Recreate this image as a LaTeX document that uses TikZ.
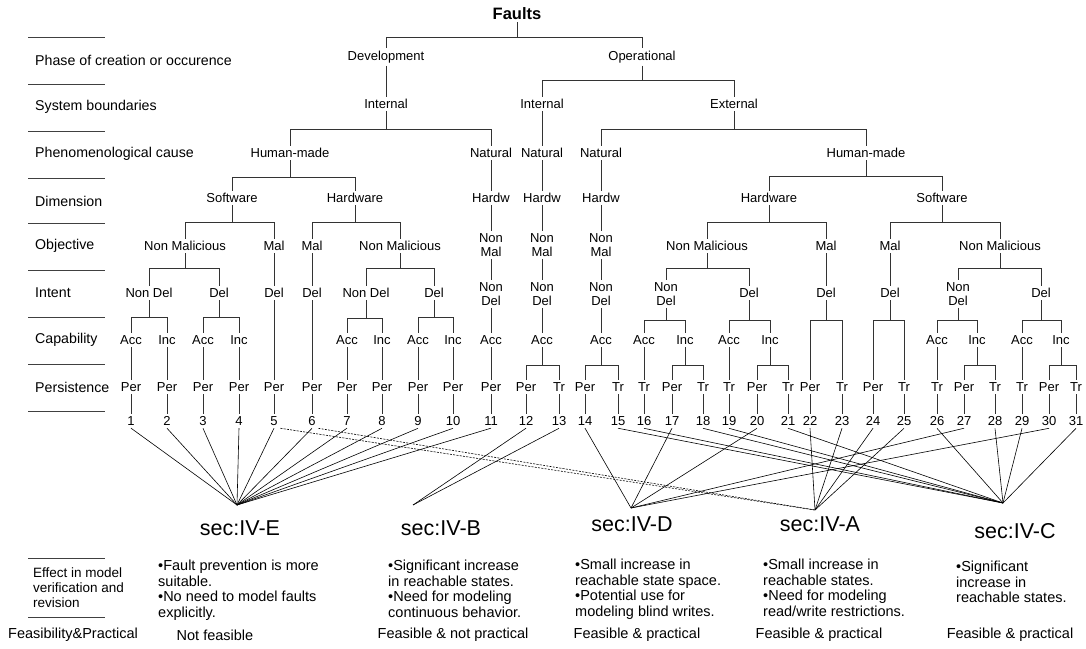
\documentclass[tikz,border=0pt]{standalone}
\usepackage{fontspec}
\setmainfont{Liberation Sans}
\newcommand{\tb}[3]{\draw[ln] (#1.south) -- (#1.south |- 0,#3) -| (#2.north);}
\newcommand{\tv}[2]{\draw[ln] (#1.south) -- (#2.north);}
\begin{document}
\begin{tikzpicture}[x=1pt,y=-1pt,
  t/.style={font=\fontsize{13}{13.5}\selectfont, inner sep=2.5pt, align=center},
  fb/.style={font=\bfseries\fontsize{16.5}{18}\selectfont, inner sep=2pt},
  rl/.style={font=\fontsize{14.2}{16}\selectfont, anchor=west, inner sep=0pt},
  ln/.style={line width=0.8pt, draw=black!80},
  sep/.style={line width=0.9pt, draw=black!75},
  cn/.style={line width=0.6pt, draw=black},
  dsh/.style={line width=0.6pt, draw=black, dash pattern=on 2pt off 1.3pt},
  sec/.style={font=\fontsize{21.5}{23}\selectfont, inner sep=0pt},
  eff/.style={font=\fontsize{14.5}{15.6}\selectfont, anchor=north west, align=left, inner sep=0pt},
  fz/.style={font=\fontsize{14.5}{16}\selectfont, inner sep=0pt}
]
\useasboundingbox (0,0) rectangle (1086,648);

% left row labels and separators
\foreach \yy in {37,84,131,178,223,270,317,364,411,558,617}
  \draw[sep] (28,\yy) -- (105,\yy);
\node[rl] (r1) at (35,60) {Phase of creation or occurence};
\node[rl] (r2) at (35,107) {System boundaries};
\node[rl] (r3) at (35,154) {Phenomenological cause};
\node[rl] (r4) at (35,201) {Dimension};
\node[rl] (r5) at (35,246) {Objective};
\node[rl] (r6) at (35,293) {Intent};
\node[rl] (r7) at (35,340) {Capability};
\node[rl] (r8) at (35,387) {Persistence};

% tree
\node[fb] (F) at (517,14) {Faults};
\node[t] (dev) at (386,57) {Development};
\node[t] (op) at (642,57) {Operational};
\tb{F}{dev}{37} \tb{F}{op}{37}

\node[t] (in1) at (386,104) {Internal};
\node[t] (in2) at (542,104) {Internal};
\node[t] (ext) at (734,104) {External};
\tv{dev}{in1} \tb{op}{in2}{80} \tb{op}{ext}{80}

\node[t] (hm1) at (290,153) {Human-made};
\node[t] (nat1) at (491,153) {Natural};
\node[t] (nat2) at (542,153) {Natural};
\node[t] (nat3) at (601,153) {Natural};
\node[t] (hm2) at (866,153) {Human-made};
\tb{in1}{hm1}{129} \tb{in1}{nat1}{129} \tv{in2}{nat2}
\tb{ext}{nat3}{129} \tb{ext}{hm2}{129}

\node[t] (sw1) at (232,198) {Software};
\node[t] (hw1) at (355,198) {Hardware};
\node[t] (hd1) at (491,198) {Hardw};
\node[t] (hd2) at (542,198) {Hardw};
\node[t] (hd3) at (601,198) {Hardw};
\node[t] (hw2) at (769,198) {Hardware};
\node[t] (sw2) at (942,198) {Software};
\tb{hm1}{sw1}{177} \tb{hm1}{hw1}{177}
\tv{nat1}{hd1} \tv{nat2}{hd2} \tv{nat3}{hd3}
\tb{hm2}{hw2}{176} \tb{hm2}{sw2}{176}

\node[t] (nm1) at (185,246) {Non Malicious};
\node[t] (m1) at (274,246) {Mal};
\node[t] (m2) at (312,246) {Mal};
\node[t] (nm2) at (400,246) {Non Malicious};
\node[t] (nn1) at (491,245) {Non\\Mal};
\node[t] (nn2) at (542,245) {Non\\Mal};
\node[t] (nn3) at (601,245) {Non\\Mal};
\node[t] (nm3) at (707,246) {Non Malicious};
\node[t] (m3) at (826,246) {Mal};
\node[t] (m4) at (890,246) {Mal};
\node[t] (nm4) at (1000,246) {Non Malicious};
\tb{sw1}{nm1}{222} \tb{sw1}{m1}{222}
\tb{hw1}{m2}{222} \tb{hw1}{nm2}{222}
\tv{hd1}{nn1} \tv{hd2}{nn2} \tv{hd3}{nn3}
\tb{hw2}{nm3}{222} \tb{hw2}{m3}{222}
\tb{sw2}{m4}{222} \tb{sw2}{nm4}{222}

\node[t] (nd1) at (149,293) {Non Del};
\node[t] (d1) at (219,293) {Del};
\node[t] (d1b) at (274,293) {Del};
\node[t] (d2b) at (312,293) {Del};
\node[t] (nd2) at (366,293) {Non Del};
\node[t] (d2) at (434,293) {Del};
\node[t] (ndn1) at (491,294) {Non\\Del};
\node[t] (ndn2) at (542,294) {Non\\Del};
\node[t] (ndn3) at (601,294) {Non\\Del};
\node[t] (nd3) at (666,294) {Non\\Del};
\node[t] (d3) at (749,293) {Del};
\node[t] (d3b) at (826,293) {Del};
\node[t] (d4b) at (890,293) {Del};
\node[t] (nd4) at (958,294) {Non\\Del};
\node[t] (d4) at (1041,293) {Del};
\tb{nm1}{nd1}{268} \tb{nm1}{d1}{268}
\tv{m1}{d1b} \tv{m2}{d2b}
\tb{nm2}{nd2}{268} \tb{nm2}{d2}{268}
\tv{nn1}{ndn1} \tv{nn2}{ndn2} \tv{nn3}{ndn3}
\tb{nm3}{nd3}{268} \tb{nm3}{d3}{268}
\tv{m3}{d3b} \tv{m4}{d4b}
\tb{nm4}{nd4}{268} \tb{nm4}{d4}{268}

\foreach \n/\x/\s in {a1/131/Acc, i1/167/Inc, a2/203/Acc, i2/239/Inc,
  a3/347/Acc, i3/382/Inc, a4/418/Acc, i4/453/Inc, a5/491/Acc, a6/542/Acc,
  a7/601/Acc, a8/644/Acc, i8/685/Inc, a9/729/Acc, i9/770/Inc,
  a10/937/Acc, i10/977/Inc, a11/1022/Acc, i11/1061/Inc}
  \node[t] (\n) at (\x,340) {\s};
\tb{nd1}{a1}{317} \tb{nd1}{i1}{317}
\tb{d1}{a2}{317} \tb{d1}{i2}{317}
\tb{nd2}{a3}{318} \tb{nd2}{i3}{318}
\tb{d2}{a4}{317} \tb{d2}{i4}{317}
\tv{ndn1}{a5} \tv{ndn2}{a6} \tv{ndn3}{a7}
\tb{nd3}{a8}{320} \tb{nd3}{i8}{320}
\tb{d3}{a9}{320} \tb{d3}{i9}{320}
\tb{nd4}{a10}{320} \tb{nd4}{i10}{320}
\tb{d4}{a11}{320} \tb{d4}{i11}{320}

% persistence and numbers
\foreach \i/\x/\s in {1/131/Per,2/167/Per,3/203/Per,4/239/Per,5/274/Per,
  6/312/Per,7/347/Per,8/382/Per,9/418/Per,10/453/Per,11/491/Per,12/526/Per,
  13/559/Tr,14/585/Per,15/618/Tr,16/644/Tr,17/672/Per,18/703/Tr,19/729/Tr,
  20/757/Per,21/788/Tr,22/810/Per,23/842/Tr,24/873/Per,25/904/Tr,26/937/Tr,
  27/964/Per,28/995/Tr,29/1022/Tr,30/1049/Per,31/1076/Tr}{
  \node[t] (p\i) at (\x,387) {\s};
  \node[t] (n\i) at (\x,421) {\i};
  \draw[ln] (p\i.south) -- (n\i.north);
}
\tv{a1}{p1} \tv{i1}{p2} \tv{a2}{p3} \tv{i2}{p4}
\tv{d1b}{p5} \tv{d2b}{p6}
\tv{a3}{p7} \tv{i3}{p8} \tv{a4}{p9} \tv{i4}{p10} \tv{a5}{p11}
\tb{a6}{p12}{365} \tb{a6}{p13}{365}
\tb{a7}{p14}{365} \tb{a7}{p15}{365}
\tv{a8}{p16}
\tb{i8}{p17}{365} \tb{i8}{p18}{365}
\tv{a9}{p19}
\tb{i9}{p20}{365} \tb{i9}{p21}{365}
\tb{d3b}{p22}{320} \tb{d3b}{p23}{320}
\tb{d4b}{p24}{320} \tb{d4b}{p25}{320}
\tv{a10}{p26}
\tb{i10}{p27}{365} \tb{i10}{p28}{365}
\tv{a11}{p29}
\tb{i11}{p30}{365} \tb{i11}{p31}{365}

% section apexes and labels
\coordinate (E) at (237,505);
\coordinate (B) at (413,505);
\coordinate (D) at (631,508);
\coordinate (A) at (815,510);
\coordinate (C) at (1003,503);
\node[sec] (sE) at (240,528) {sec:IV-E};
\node[sec] (sB) at (441,528) {sec:IV-B};
\node[sec] (sD) at (632,524) {sec:IV-D};
\node[sec] (sA) at (820,524) {sec:IV-A};
\node[sec] (sC) at (1015,531) {sec:IV-C};

\foreach \i in {1,...,11} \draw[cn] (n\i.south) -- (E);
\foreach \i in {12,13} \draw[cn] (n\i.south) -- (B);
\foreach \i in {14,17,20,27,30} \draw[cn] (n\i.south) -- (D);
\foreach \i in {22,23,24,25} \draw[cn] (n\i.south) -- (A);
\foreach \i in {15,16,18,19,21,26,28,29,31} \draw[cn] (n\i.south) -- (C);
\draw[dsh] (n5.south east) -- (A);
\draw[dsh] (n6.south east) -- (A);

% effects
\node[font=\fontsize{13.5}{15}\selectfont, anchor=north west, align=left, inner sep=0pt] (efl) at (33,568) {Effect in model\\verification and\\revision};
\node[eff] (e1) at (158,560) {•Fault prevention is more\\suitable.\\•No need to model faults\\explicitly.};
\node[eff] (e2) at (388,560) {•Significant increase\\in reachable states.\\•Need for modeling\\continuous behavior.};
\node[eff] (e3) at (575,559) {•Small increase in\\reachable state space.\\•Potential use for\\modeling blind writes.};
\node[eff] (e4) at (763,559) {•Small increase in\\reachable states.\\•Need for modeling\\read/write restrictions.};
\node[eff] (e5) at (956,561) {•Significant\\increase in\\reachable states.};

% feasibility
\node[fz, anchor=west] (fl) at (8,635) {Feasibility\&Practical};
\node[fz] (f1) at (215,635) {Not feasible};
\node[fz] (f2) at (453,635) {Feasible \& not practical};
\node[fz] (f3) at (637,635) {Feasible \& practical};
\node[fz] (f4) at (819,635) {Feasible \& practical};
\node[fz] (f5) at (1010,635) {Feasible \& practical};
\end{tikzpicture}
\end{document}
